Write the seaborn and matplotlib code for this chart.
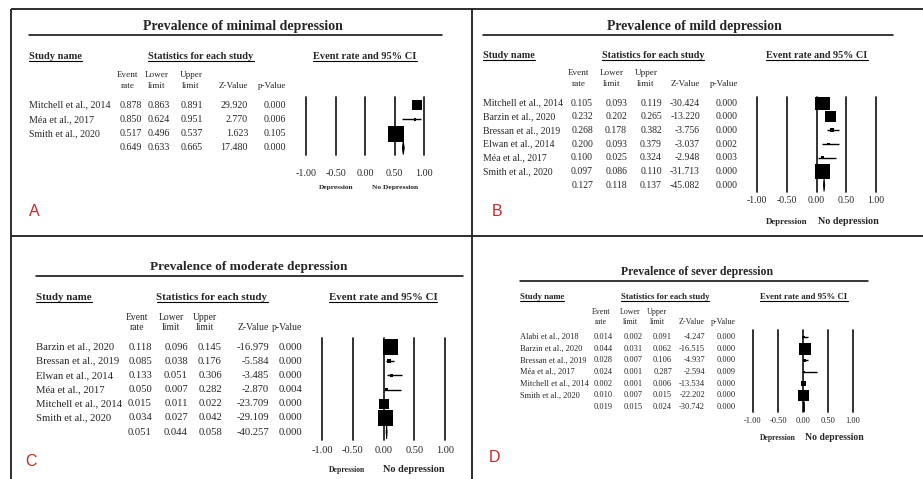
import matplotlib
matplotlib.use("Agg")
import matplotlib.pyplot as plt
import seaborn as sns
import numpy as np
import pandas as pd

# ---- data ----
studies_a = ["Mitchell et al., 2014", "Méa et al., 2017", "Smith et al., 2020"]
event_a = [0.878, 0.850, 0.517]
lower_a = [0.863, 0.624, 0.496]
upper_a = [0.891, 0.951, 0.537]
zval_a = [29.920, 2.770, 1.623]
pval_a = [0.000, 0.006, 0.105]
pooled_a = [0.649, 0.633, 0.665, 17.480, 0.000]

studies_b = ["Mitchell et al., 2014", "Barzin et al., 2020", "Bressan et al., 2019",
             "Elwan et al., 2014", "Méa et al., 2017", "Smith et al., 2020"]
event_b = [0.105, 0.232, 0.268, 0.200, 0.100, 0.097]
lower_b = [0.093, 0.202, 0.178, 0.093, 0.025, 0.086]
upper_b = [0.119, 0.265, 0.382, 0.379, 0.324, 0.110]
zval_b = [-30.424, -13.220, -3.756, -3.037, -2.948, -31.713]
pval_b = [0.000, 0.000, 0.000, 0.002, 0.003, 0.000]
pooled_b = [0.127, 0.118, 0.137, -45.082, 0.000]

studies_c = ["Barzin et al., 2020", "Bressan et al., 2019", "Elwan et al., 2014",
             "Méa et al., 2017", "Mitchell et al., 2014", "Smith et al., 2020"]
event_c = [0.118, 0.085, 0.133, 0.050, 0.015, 0.034]
lower_c = [0.096, 0.038, 0.051, 0.007, 0.011, 0.027]
upper_c = [0.145, 0.176, 0.306, 0.282, 0.022, 0.042]
zval_c = [-16.979, -5.584, -3.485, -2.870, -23.709, -29.109]
pval_c = [0.000, 0.000, 0.000, 0.004, 0.000, 0.000]
pooled_c = [0.051, 0.044, 0.058, -40.257, 0.000]

studies_d = ["Alabi et al., 2018", "Barzin et al., 2020", "Bressan et al., 2019",
             "Méa et al., 2017", "Mitchell et al., 2014", "Smith et al., 2020"]
event_d = [0.014, 0.044, 0.028, 0.024, 0.002, 0.010]
lower_d = [0.002, 0.031, 0.007, 0.001, 0.001, 0.007]
upper_d = [0.091, 0.062, 0.106, 0.287, 0.006, 0.015]
zval_d = [-4.247, -16.515, -4.937, -2.594, -13.534, -22.202]
pval_d = [0.000, 0.000, 0.000, 0.009, 0.000, 0.000]
pooled_d = [0.019, 0.015, 0.024, -30.742, 0.000]

titles = ["Prevalence of minimal depression", "Prevalence of mild depression",
          "Prevalence of moderate depression", "Prevalence of sever depression"]
letters = ["A", "B", "C", "D"]
side_labels = [("Depression", "No Depression"), ("Depression", "No depression"),
               ("Depression", "No depression"), ("Depression", "No depression")]
ticks = [-1.0, -0.5, 0.0, 0.5, 1.0]
tick_labels = ["-1.00", "-0.50", "0.00", "0.50", "1.00"]

# ---- layout, in pixels of the 923x479 picture ----
layouts = [
    dict(title=(243, 26), tfs=10, rule=(29, 442, 35), hy=56, hfs=7.5,
         name_x=29, stats_x=201, ci_x=365, cy=(75, 86), ccx=(128, 157, 191),
         num_r=(142, 170, 203, 248, 286), fs=7.2, cfs=6.6, row0=105, step=14.3,
         fx=(306, 424), fy=(97, 155), tick_y=175, tfs2=7.2,
         side_y=188, side_x=(336, 395), sfs=(5.3, 5.4), letter=(34, 212), maxsq=16),
    dict(title=(694, 26), tfs=9.9, rule=(483, 893, 35), hy=55, hfs=7.3,
         name_x=483, stats_x=653, ci_x=817, cy=(73, 84), ccx=(579, 612, 646),
         num_r=(593, 627, 662, 700, 738), fs=7.0, cfs=6.6, row0=103, step=13.67,
         fx=(757, 876), fy=(97, 192), tick_y=202, tfs2=7.0,
         side_y=222, side_x=(787, 848), sfs=(6.4, 7.3), letter=(497, 212), maxsq=15),
    dict(title=(249, 267), tfs=9.5, rule=(36, 463, 276), hy=297, hfs=7.8,
         name_x=36, stats_x=212, ci_x=383, cy=(317, 328), ccx=(137, 171, 205),
         num_r=(152, 188, 222, 269, 302), fs=7.7, cfs=6.9, row0=347, step=14.17,
         fx=(322, 445), fy=(338, 440), tick_y=452, tfs2=7.5,
         side_y=470, side_x=(347, 414), sfs=(5.6, 7.4), letter=(31, 461), maxsq=15.5),
    dict(title=(697, 272), tfs=8.5, rule=(520, 868, 281), hy=297, hfs=6.3,
         name_x=520, stats_x=665, ci_x=804, cy=(312, 322), ccx=(601, 630, 657),
         num_r=(613, 643, 672, 705, 736), fs=6.0, cfs=5.8, row0=337, step=11.67,
         fx=(753, 853), fy=(330, 412), tick_y=422, tfs2=6.0,
         side_y=438, side_x=(778, 834), sfs=(5.5, 7.0), letter=(494, 458), maxsq=12),
]

panels = [
    (studies_a, event_a, lower_a, upper_a, zval_a, pval_a, pooled_a),
    (studies_b, event_b, lower_b, upper_b, zval_b, pval_b, pooled_b),
    (studies_c, event_c, lower_c, upper_c, zval_c, pval_c, pooled_c),
    (studies_d, event_d, lower_d, upper_d, zval_d, pval_d, pooled_d),
]

sns.set_theme(style="white")
plt.rcParams["font.family"] = ["Liberation Serif", "DejaVu Serif"]

W, H = 923, 479
fig = plt.figure(figsize=(W / 100, H / 100), dpi=100)
bg = fig.add_axes([0, 0, 1, 1])
bg.set_xlim(0, W)
bg.set_ylim(H, 0)
bg.axis("off")

# panel frame
frame = dict(color="#1e1e1e", lw=1.3, solid_capstyle="butt")
bg.plot([11, W], [9, 9], **frame)
bg.plot([11, 11], [9, H], **frame)
bg.plot([472, 472], [9, H], **frame)
bg.plot([11, W], [236, 236], **frame)


def logit(p):
    p = np.asarray(p, dtype=float)
    return np.log(p / (1 - p))


underlined = []

for (studies, ev, lo, up, zv, pv, pooled), title, letter, sides, L in zip(
        panels, titles, letters, side_labels, layouts):
    df = pd.DataFrame({"study": studies, "event": ev, "lower": lo, "upper": up,
                       "z": zv, "p": pv})
    n = len(df)

    # title + rule
    bg.text(*L["title"], title, ha="center", va="center", fontsize=L["tfs"],
            fontweight="bold")
    bg.plot([L["rule"][0], L["rule"][1]], [L["rule"][2]] * 2, color="black", lw=1.1)

    # section headers
    hy = L["hy"]
    for x, s, ha in [(L["name_x"], "Study name", "left"),
                     (L["stats_x"], "Statistics for each study", "center"),
                     (L["ci_x"], "Event rate and 95% CI", "center")]:
        underlined.append(bg.text(x, hy, s, ha=ha, va="center", fontsize=L["hfs"],
                                  fontweight="bold"))

    # column headers
    y1, y2 = L["cy"]
    for cx, (a, b) in zip(L["ccx"], [("Event", "rate"), ("Lower", "limit"), ("Upper", "limit")]):
        bg.text(cx, y1, a, ha="center", va="center", fontsize=L["cfs"])
        bg.text(cx, y2, b, ha="center", va="center", fontsize=L["cfs"])
    bg.text(L["num_r"][3], y2, "Z-Value", ha="right", va="center", fontsize=L["cfs"])
    bg.text(L["num_r"][4], y2, "p-Value", ha="right", va="center", fontsize=L["cfs"])

    # table rows
    for i, r in df.iterrows():
        y = L["row0"] + i * L["step"]
        bg.text(L["name_x"], y, r["study"], ha="left", va="center", fontsize=L["fs"])
        for xr, v in zip(L["num_r"], [r["event"], r["lower"], r["upper"], r["z"], r["p"]]):
            bg.text(xr, y, f"{v:.3f}", ha="right", va="center", fontsize=L["fs"])
    y = L["row0"] + n * L["step"]
    for xr, v in zip(L["num_r"], pooled):
        bg.text(xr, y, f"{v:.3f}", ha="right", va="center", fontsize=L["fs"])

    # forest plot
    x0, x1 = L["fx"]
    gy0, gy1 = L["fy"]
    ax = fig.add_axes([x0 / W, 1 - gy1 / H, (x1 - x0) / W, (gy1 - gy0) / H])
    ax.patch.set_alpha(0)
    ax.set_xlim(-1, 1)
    ax.set_ylim((gy1 - L["row0"]) / L["step"], (gy0 - L["row0"]) / L["step"])
    for t in ticks:
        ax.axvline(t, color="#222222", lw=1.3, clip_on=False, zorder=0)

    rows = np.arange(n)
    se = (logit(df["upper"]) - logit(df["lower"])) / (2 * 1.96)
    w = 1 / se ** 2
    side_px = np.clip(L["maxsq"] * np.sqrt(w / w.max()), 2.5, None)
    ax.hlines(rows, df["lower"], df["upper"], color="black", lw=1.0, zorder=2)
    sns.scatterplot(x=df["event"].to_numpy(), y=rows, marker="s", s=(side_px * 0.72) ** 2,
                    color="black", linewidth=0, legend=False, ax=ax, zorder=3)
    est, plo, phi = pooled[0], pooled[1], pooled[2]
    h = 0.47
    ax.fill([plo, est, phi, est], [n, n - h, n, n + h], color="black", lw=0.7, zorder=3)

    ax.set_xticks(ticks, tick_labels)
    ax.set_yticks([])
    pad_px = L["tick_y"] - gy1 - 0.58 * L["tfs2"] * 100 / 72
    ax.tick_params(axis="x", length=0, pad=pad_px * 0.72, labelsize=L["tfs2"])
    ax.grid(False)
    for sp in ax.spines.values():
        sp.set_visible(False)

    bg.text(L["side_x"][0], L["side_y"], sides[0], ha="center", va="center",
            fontsize=L["sfs"][0], fontweight="bold")
    bg.text(L["side_x"][1], L["side_y"], sides[1], ha="center", va="center",
            fontsize=L["sfs"][1], fontweight="bold")

    bg.text(*L["letter"], letter, ha="center", va="center", fontsize=11.5,
            color="#c62828", family="Liberation Sans")

# underline the section headers using their drawn extents
fig.canvas.draw()
renderer = fig.canvas.get_renderer()
inv = bg.transData.inverted()
for t in underlined:
    bb = t.get_window_extent(renderer)
    (ax0, ay0), (ax1, ay1) = inv.transform([(bb.x0, bb.y0), (bb.x1, bb.y1)])
    bg.plot([ax0, ax1], [ay0 + 0.2, ay0 + 0.2], color="black", lw=0.8)

fig.savefig("out.png", dpi=100)
